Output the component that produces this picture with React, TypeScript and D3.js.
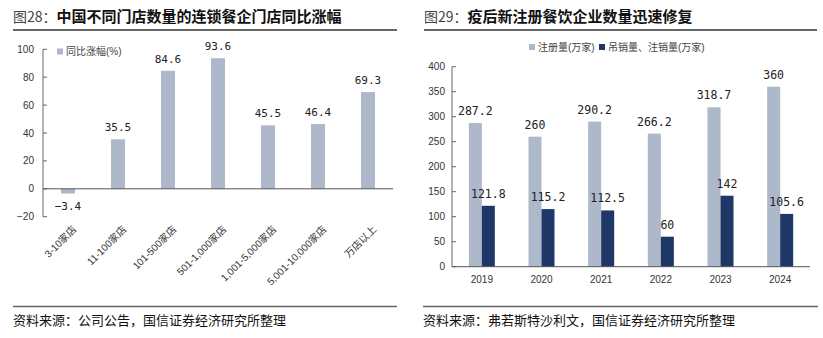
import React from "react";
import * as d3 from "d3";

const leftCats = ["3-10家店", "11-100家店", "101-500家店", "501-1,000家店", "1,001-5,000家店", "5,001-10,000家店", "万店以上"];
const leftValues = [-3.4, 35.5, 84.6, 93.6, 45.5, 46.4, 69.3];
const leftTicks = [-20, 0, 20, 40, 60, 80, 100];

const years = ["2019", "2020", "2021", "2022", "2023", "2024"];
const registered = [287.2, 260, 290.2, 266.2, 318.7, 360];
const cancelled = [121.8, 115.2, 112.5, 60, 142, 105.6];
const rightTicks = [0, 50, 100, 150, 200, 250, 300, 350, 400];
const seriesNames = ["注册量(万家)", "吊销量、注销量(万家)"];

const LIGHT = "#ADB8CB";
const DARK = "#1F3766";
const FONT = "'Liberation Sans', 'Noto Sans CJK SC', sans-serif";
const CJK = "'Noto Sans CJK SC', 'Noto Sans', sans-serif";
const NUMFONT = "'DejaVu Sans Mono', 'Liberation Mono', monospace";

function fmt(v: number) {
  return String(v);
}

export default function App() {
  const yL = d3.scaleLinear().domain([-20, 100]).range([216.7, 49.3]);
  const xL = d3.scaleBand<string>().domain(leftCats).range([43, 393]).paddingInner(0.72).paddingOuter(0.36);
  const axL = 43;

  const yR = d3.scaleLinear().domain([0, 400]).range([266.7, 66.7]);
  const xR = d3.scaleBand<string>().domain(years).range([452, 810]).paddingInner(0.564).paddingOuter(0.282);
  const xS = d3.scaleBand<string>().domain(["reg", "can"]).range([0, xR.bandwidth()]);
  const axR = 452;

  return (
    <svg width={823} height={338} style={{ position: "absolute", left: 0, top: 0, background: "#fff" }} fontFamily={FONT}>
      <text x={13} y={22} fontSize={14} fill="#444" fontFamily={CJK}>图28：<tspan fontWeight="bold" fontSize={15} fill="#111">中国不同门店数量的连锁餐企门店同比涨幅</tspan></text>
      <line x1={13} x2={397} y1={30} y2={30} stroke="#333" strokeWidth={1.3} />
      <text x={424} y={22} fontSize={14} fill="#444" fontFamily={CJK}>图29：<tspan fontWeight="bold" fontSize={15} fill="#111">疫后新注册餐饮企业数量迅速修复</tspan></text>
      <line x1={424} x2={817} y1={30} y2={30} stroke="#333" strokeWidth={1.3} />

      <g>
        {leftTicks.map((t) => (
          <g key={t}>
            <line x1={axL} x2={axL + 4} y1={yL(t)} y2={yL(t)} stroke="#666" />
            <text x={34} y={yL(t)} dy="0.35em" textAnchor="end" fontSize={10} fill="#333">{t === -20 ? "−20" : t}</text>
          </g>
        ))}
        <line x1={axL} x2={axL} y1={yL(100)} y2={yL(-20)} stroke="#666" />
        {leftValues.map((v, i) => {
          const c = leftCats[i];
          const x = xL(c)!;
          const y0 = yL(0);
          const y1 = yL(v);
          return (
            <g key={c}>
              <rect x={x} width={xL.bandwidth()} y={Math.min(y0, y1)} height={Math.abs(y1 - y0)} fill={LIGHT} />
              <text x={x + xL.bandwidth() / 2} y={v >= 0 ? y1 - 8 : y1 + 16} textAnchor="middle" fontSize={11} fill="#222" fontFamily={NUMFONT}>
                {v < 0 ? "−" + fmt(-v) : fmt(v)}
              </text>
              <text transform={`translate(${x + xL.bandwidth() / 2 + 9},${230}) rotate(-45)`} textAnchor="end" fontSize={10} fill="#333">{c}</text>
            </g>
          );
        })}
        <line x1={axL} x2={393} y1={yL(0)} y2={yL(0)} stroke="#555" />
        <rect x={57} y={48.5} width={6} height={6} fill={LIGHT} />
        <text x={66} y={51.5} dy="0.35em" fontSize={10} fill="#444">同比涨幅(%)</text>
      </g>

      <g>
        <rect x={529} y={44} width={6} height={6} fill={LIGHT} />
        <text x={538} y={47} dy="0.35em" fontSize={10} fill="#444">{seriesNames[0]}</text>
        <rect x={599} y={44} width={6} height={6} fill={DARK} />
        <text x={608} y={47} dy="0.35em" fontSize={10} fill="#444">{seriesNames[1]}</text>
        {rightTicks.map((t) => (
          <g key={t}>
            <line x1={axR} x2={axR + 4} y1={yR(t)} y2={yR(t)} stroke="#666" />
            <text x={445} y={yR(t)} dy="0.35em" textAnchor="end" fontSize={10} fill="#333">{t}</text>
          </g>
        ))}
        <line x1={axR} x2={axR} y1={yR(400)} y2={yR(0)} stroke="#666" />
        {years.map((yr, i) => {
          const gx = xR(yr)!;
          const bw = xS.bandwidth();
          const xa = gx + xS("reg")!;
          const xb = gx + xS("can")!;
          return (
            <g key={yr}>
              <rect x={xa} width={bw} y={yR(registered[i])} height={yR(0) - yR(registered[i])} fill={LIGHT} />
              <rect x={xb} width={bw} y={yR(cancelled[i])} height={yR(0) - yR(cancelled[i])} fill={DARK} />
              <text x={xa + bw / 2} y={yR(registered[i]) - 8} textAnchor="middle" fontSize={11.5} fill="#222" fontFamily={NUMFONT}>{fmt(registered[i])}</text>
              <text x={xb + bw / 2} y={yR(cancelled[i]) - 8} textAnchor="middle" fontSize={11.5} fill="#222" fontFamily={NUMFONT}>{fmt(cancelled[i])}</text>
              <text x={gx + xR.bandwidth() / 2} y={279} dy="0.35em" textAnchor="middle" fontSize={10} fill="#333">{yr}</text>
            </g>
          );
        })}
        <line x1={axR} x2={810} y1={yR(0)} y2={yR(0)} stroke="#555" />
      </g>

      <line x1={13} x2={397} y1={306.5} y2={306.5} stroke="#666" strokeWidth={1.3} />
      <text x={13} y={320} dy="0.35em" fontSize={13} fill="#111" fontFamily={CJK}>资料来源：公司公告，国信证券经济研究所整理</text>
      <line x1={423} x2={818} y1={306.5} y2={306.5} stroke="#666" strokeWidth={1.3} />
      <text x={423} y={320} dy="0.35em" fontSize={13} fill="#111" fontFamily={CJK}>资料来源：弗若斯特沙利文，国信证券经济研究所整理</text>
    </svg>
  );
}
